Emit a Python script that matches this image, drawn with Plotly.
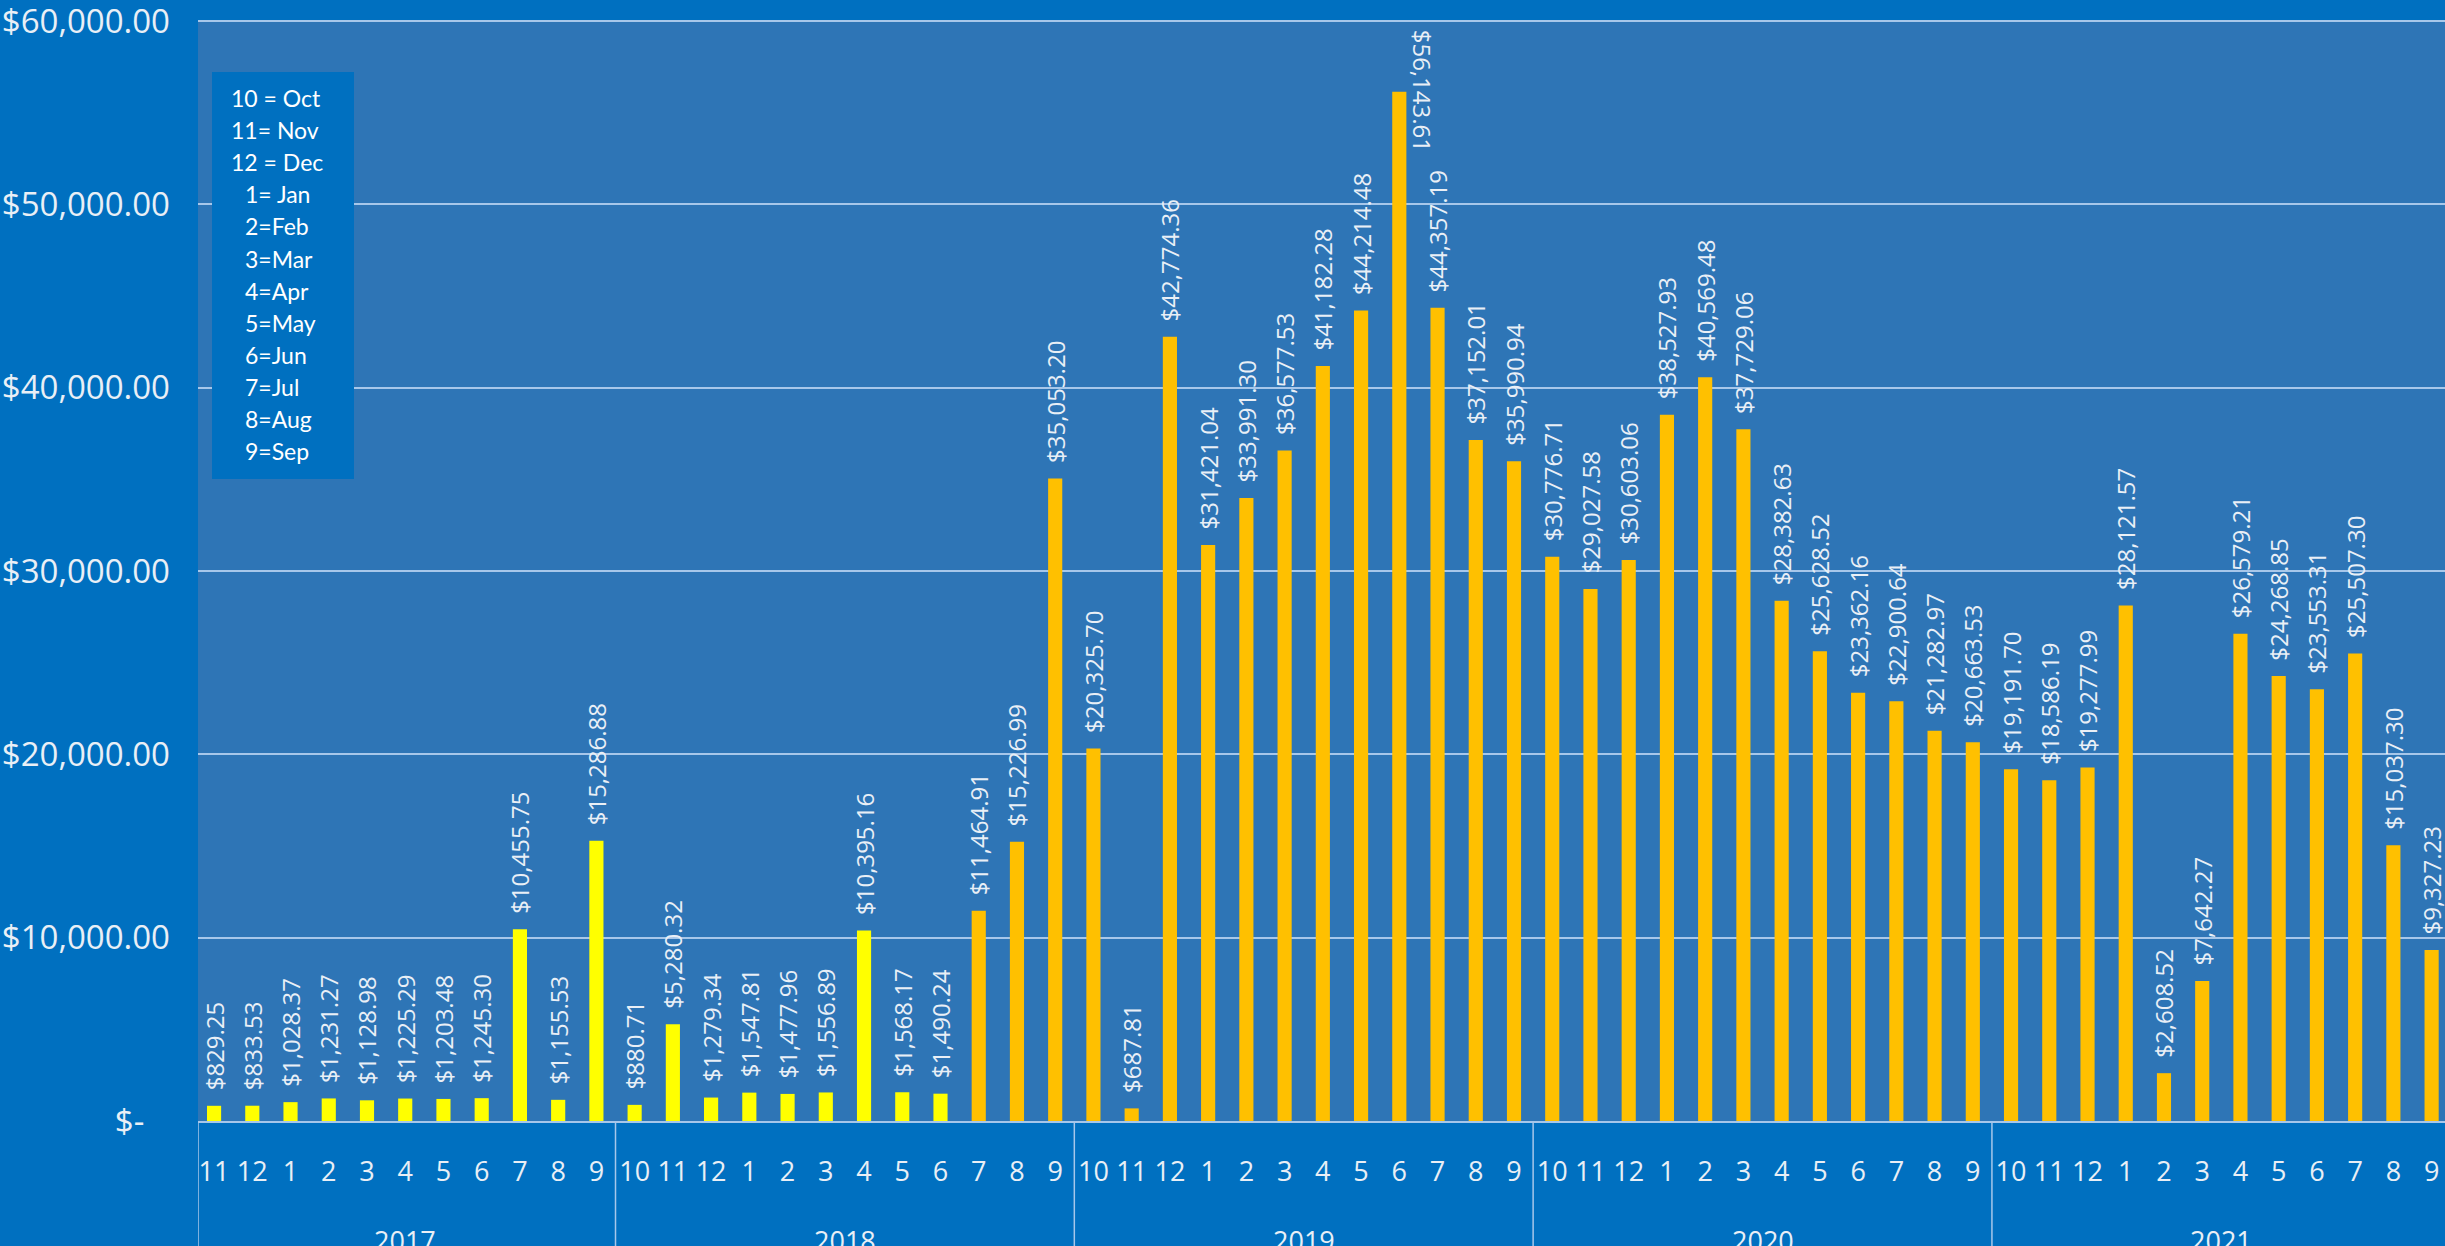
import plotly.graph_objects as go

# ---------------- data ----------------
fiscal_years = ["2017", "2018", "2019", "2020", "2021"]
months_2017 = ["11", "12", "1", "2", "3", "4", "5", "6", "7", "8", "9"]
months_full = ["10", "11", "12", "1", "2", "3", "4", "5", "6", "7", "8", "9"]

values_2017 = [829.25, 833.53, 1028.37, 1231.27, 1128.98, 1225.29, 1203.48, 1245.30, 10455.75, 1155.53, 15286.88]
values_2018 = [880.71, 5280.32, 1279.34, 1547.81, 1477.96, 1556.89, 10395.16, 1568.17, 1490.24, 11464.91, 15226.99, 35053.20]
values_2019 = [20325.70, 687.81, 42774.36, 31421.04, 33991.30, 36577.53, 41182.28, 44214.48, 56143.61, 44357.19, 37152.01, 35990.94]
values_2020 = [30776.71, 29027.58, 30603.06, 38527.93, 40569.48, 37729.06, 28382.63, 25628.52, 23362.16, 22900.64, 21282.97, 20663.53]
values_2021 = [19191.70, 18586.19, 19277.99, 28121.57, 2608.52, 7642.27, 26579.21, 24268.85, 23553.31, 25507.30, 15037.30, 9327.23]

y_tick_values = [0, 10000, 20000, 30000, 40000, 50000, 60000]

legend_lines = ["10 = Oct", "11= Nov", "12 = Dec", "1= Jan", "2=Feb", "3=Mar",
                "4=Apr", "5=May", "6=Jun", "7=Jul", "8=Aug", "9=Sep"]

# ---------------- build ----------------
month_lists = [months_2017, months_full, months_full, months_full, months_full]
value_lists = [values_2017, values_2018, values_2019, values_2020, values_2021]

x_year, x_month, values = [], [], []
for fy, ms, vs in zip(fiscal_years, month_lists, value_lists):
    x_year += [fy] * len(ms)
    x_month += ms
    values += vs

keys = ["{}-{}".format(y, m) for y, m in zip(x_year, x_month)]
switch = keys.index("2018-7")
colors = ["#FFFF00" if i < switch else "#FFC000" for i in range(len(values))]

max_i = max(range(len(values)), key=lambda i: values[i])
labels = ["" if i == max_i else "\u00a0\u00a0${:,.2f}".format(v) for i, v in enumerate(values)]

W, H = 2445, 1246
ML, MR, MT, MB = 198, 0, 20, 125
PW, PH = W - ML - MR, H - MT - MB
x_range = [-0.42, len(values) - 0.65]

OUTER = "#0070C0"
PLOT = "#2E75B6"
GRID = "#A7C7EA"
TXT = "#E9EFF6"

fig = go.Figure()
fig.add_trace(go.Bar(
    x=keys, y=values,
    marker=dict(color=colors, line=dict(width=0)),
    text=labels, textposition="outside", textangle=-90,
    outsidetextfont=dict(family="Open Sans", size=24, color=TXT),
    constraintext="none", cliponaxis=False,
    hoverinfo="skip", showlegend=False,
))

def px_x(px):
    return (px - ML) / PW

def px_y(py):
    return (H - MB - py) / PH

# fiscal-year group labels and dividers under the month labels
for fy in fiscal_years:
    idx = [i for i, y in enumerate(x_year) if y == fy]
    fig.add_annotation(text=fy, x=(idx[0] + idx[-1]) / 2, xref="x",
                       y=px_y(1220), yref="paper", yanchor="top", xanchor="center",
                       showarrow=False, font=dict(family="Open Sans", size=27, color=TXT))
    xd = max(idx[0] - 0.5, x_range[0])
    fig.add_shape(type="line", xref="x", yref="paper",
                  x0=xd, x1=xd, y0=0, y1=px_y(H + 5),
                  line=dict(color=GRID, width=1.5), layer="above")

# legend box
fig.add_shape(type="rect", xref="paper", yref="paper",
              x0=px_x(212), x1=px_x(354), y0=px_y(479), y1=px_y(72),
              fillcolor=OUTER, line=dict(width=0), layer="above")
for i, line in enumerate(legend_lines):
    xpx = 229 if i < 3 else 243
    ypx = 98 + i * 32.1
    fig.add_annotation(text=line, xref="paper", yref="paper",
                       x=px_x(xpx), y=px_y(ypx), xanchor="left", yanchor="middle",
                       showarrow=False, font=dict(family="Lato", size=23, color="#FFFFFF"))

# rotated label of the tallest bar (does not fit above it)
fig.add_annotation(text="${:,.2f}".format(values[max_i]), x=max_i, y=px_y(28),
                   xref="x", yref="paper", xanchor="center", yanchor="top",
                   xshift=24, textangle=90, showarrow=False,
                   font=dict(family="Open Sans", size=24, color=TXT))

fig.update_layout(
    width=W, height=H,
    margin=dict(l=ML, r=MR, t=MT, b=MB, pad=0, autoexpand=False),
    paper_bgcolor=OUTER, plot_bgcolor=PLOT,
    showlegend=False, bargap=0.63,
    font=dict(family="Open Sans", color=TXT),
)
fig.update_yaxes(
    range=[0, 60060], tickvals=y_tick_values,
    ticktext=["$-" + "\u00a0" * 3 if v == 0 else "${:,.2f}".format(v) for v in y_tick_values],
    tickfont=dict(family="Open Sans", size=33, color=TXT),
    showgrid=True, gridcolor=GRID, gridwidth=1.5, zeroline=False,
    ticks="", ticklabelstandoff=27, showline=False, automargin=False,
    ticklabeloverflow="allow",
)
fig.update_xaxes(
    type="category", range=x_range,
    tickvals=keys, ticktext=x_month,
    tickfont=dict(family="Open Sans", size=27, color=TXT), tickangle=0,
    showline=True, linecolor=GRID, linewidth=1.5,
    ticks="", showgrid=False, ticklabelstandoff=26, automargin=False,
    ticklabeloverflow="allow",
)

fig.write_html("out.html", config={"displayModeBar": False},
               post_script="document.body.style.margin='0';document.body.style.overflow='hidden';")
